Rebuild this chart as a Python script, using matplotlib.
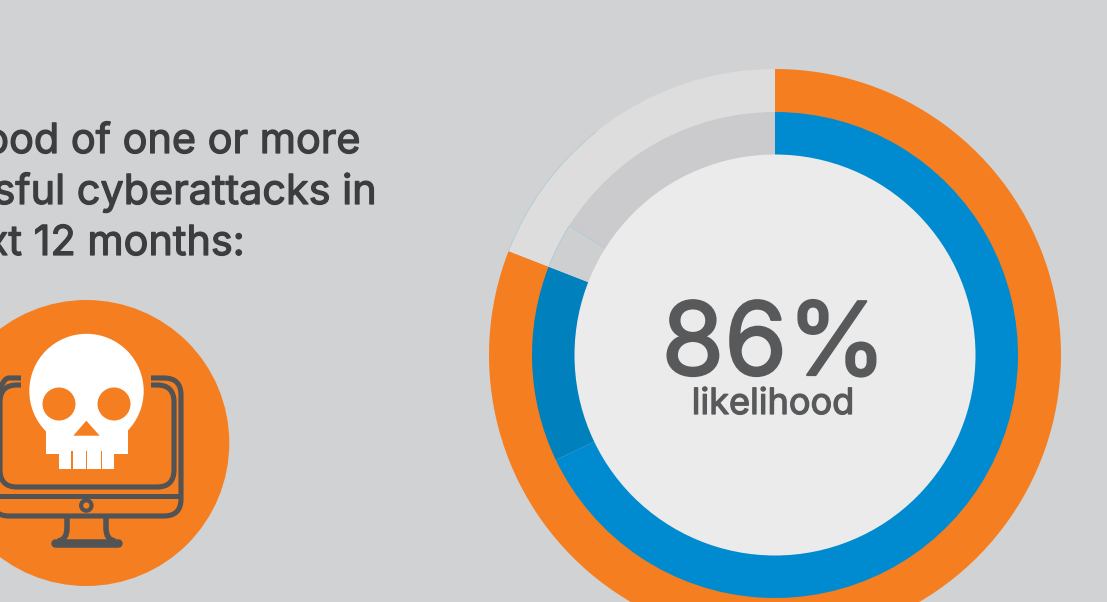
import numpy as np
import matplotlib
matplotlib.use('Agg')
import matplotlib.pyplot as plt
import matplotlib.patheffects as pe
from matplotlib.patches import Circle, Rectangle, Polygon, PathPatch, Arc
from matplotlib.path import Path

WIDTH, HEIGHT = 1107, 602
BG = '#d1d2d4'
ORANGE = '#f57e20'
BLUE = '#008bd0'
DARK_BLUE = '#0080bd'
PALE = '#dddddd'
GREY = '#cbcbcd'
GREY_LIGHT = '#cecfd1'
DISC = '#ebebeb'
TEXT = '#58595b'
ICON = '#525355'
HEADING = '#3c3d3f'
HAIR = '#a8cbd8'

likelihood = 86
outer_values = [likelihood, 20.28]
outer_colors = [ORANGE, PALE]
inner_values = [72.15, 13.85, 3.19, 17.09]
inner_colors = [BLUE, DARK_BLUE, GREY_LIGHT, GREY]
heading_lines = ['ood of one or more', 'sful cyberattacks in', 'xt 12 months:']
heading_right = [361, 377, 245]
heading_base = [153, 204, 255]


def fy(y):
    return HEIGHT - y


def frame_path(x0, x1, y0, y1, r, gap0, gap1):
    # rounded box, open along the top between gap0 and gap1
    verts = [(gap1, y0), (x1 - r, y0), (x1, y0), (x1, y0 + r), (x1, y1 - r), (x1, y1), (x1 - r, y1),
             (x0 + r, y1), (x0, y1), (x0, y1 - r), (x0, y0 + r), (x0, y0), (x0 + r, y0), (gap0, y0)]
    codes = [Path.MOVETO, Path.LINETO, Path.CURVE3, Path.CURVE3, Path.LINETO, Path.CURVE3, Path.CURVE3,
             Path.LINETO, Path.CURVE3, Path.CURVE3, Path.LINETO, Path.CURVE3, Path.CURVE3, Path.LINETO]
    return Path([(x, fy(y)) for x, y in verts], codes)


def stroke(ax, verts, codes, lw=5.0, cap='butt'):
    path = Path([(x, fy(y)) for x, y in verts], codes)
    ax.add_patch(PathPatch(path, fill=False, edgecolor=ICON, linewidth=lw * 0.72, capstyle=cap))


def draw_icon(ax):
    ax.add_patch(Circle((86.3, fy(443)), 143, color=ORANGE, lw=0))

    # monitor
    ax.add_patch(PathPatch(frame_path(-8, 181, 378, 516, 17, 21, 151), fill=False, edgecolor=ICON,
                           linewidth=3.7, capstyle='butt'))
    ax.add_patch(PathPatch(frame_path(0, 174, 385, 487, 17, 21, 151), fill=False, edgecolor=ICON,
                           linewidth=3.7, capstyle='butt'))
    stroke(ax, [(-8, 496), (181, 496)], [Path.MOVETO, Path.LINETO])
    ax.add_patch(Circle((86.3, fy(505.5)), 5.2, fill=False, edgecolor=ICON, linewidth=3.0))

    # stand
    curve = [Path.MOVETO, Path.LINETO, Path.CURVE3, Path.CURVE3]
    stroke(ax, [(67, 516), (67, 528), (67, 540), (58, 541)], curve, lw=5.5)
    stroke(ax, [(106, 516), (106, 528), (106, 540), (115, 541)], curve, lw=5.5)
    stroke(ax, [(55, 543), (118, 543)], [Path.MOVETO, Path.LINETO], lw=8.5, cap='round')

    # skull
    ax.add_patch(Circle((86.5, fy(391)), 57.2, color='white', lw=0))
    ax.add_patch(Rectangle((46, fy(453.5)), 82.3, 50, color='white', lw=0))
    ax.add_patch(Rectangle((59.3, fy(469)), 54.7, 18, color='white', lw=0))
    for x0, x1 in [(71, 72.7), (85.8, 87.3), (100.8, 102.3)]:
        ax.add_patch(Rectangle((x0, fy(469)), x1 - x0, 18, color=ORANGE, lw=0))
    for ex in (59, 114):
        ax.add_patch(Circle((ex, fy(404)), 16.5, color=ORANGE, lw=0))
    ax.add_patch(Polygon([(86.3, fy(420.7)), (73.3, fy(435.7)), (99.7, fy(435.7))], color=ORANGE, lw=0))


def draw_rings(ax, cx, cy):
    ax.pie(outer_values, colors=outer_colors, radius=286, center=(cx, cy), startangle=90, counterclock=False,
           wedgeprops=dict(width=44, linewidth=0))
    ax.pie(inner_values, colors=inner_colors, radius=243, center=(cx, cy), startangle=90, counterclock=False,
           wedgeprops=dict(width=44, linewidth=0))
    ax.add_patch(Circle((cx, cy), 200.5, color=DISC, lw=0, zorder=3))

    # thin keylines around the grey segment of the inner ring
    total = sum(inner_values)
    start = 360 * sum(inner_values[:2]) / total
    seam = 360 * sum(inner_values[:3]) / total
    ang = np.radians(90 - seam)
    ax.plot([cx + 243 * np.cos(ang), cx + 201 * np.cos(ang)], [cy + 243 * np.sin(ang), cy + 201 * np.sin(ang)],
            color=HAIR, lw=0.5, zorder=4)
    ax.add_patch(Arc((cx, cy), 486, 486, theta1=90 - seam, theta2=90 - start, color=HAIR, lw=0.5, zorder=4))
    ax.add_patch(Arc((cx, cy), 572, 572, theta1=90 - start - 30, theta2=90 - start, color=HAIR, lw=0.5, zorder=4))


fig = plt.figure(figsize=(WIDTH / 100, HEIGHT / 100), dpi=100, facecolor=BG)
ax = fig.add_axes([0, 0, 1, 1])

draw_rings(ax, 775, fy(355))
draw_icon(ax)

ax.set_xlim(0, WIDTH)
ax.set_ylim(0, HEIGHT)
ax.set_axis_off()

# the installed faces run light, so thicken the stems a little
for line, right, base in zip(heading_lines, heading_right, heading_base):
    ax.text(right, fy(base), line, ha='right', va='baseline', fontsize=29.8, color=HEADING, family='Inter',
            path_effects=[pe.withStroke(linewidth=0.9, foreground=HEADING)])

ax.text(774, fy(375), f'{likelihood}%', ha='center', va='baseline', fontsize=73, color=TEXT, family='Inter',
        zorder=5, path_effects=[pe.withStroke(linewidth=1.6, foreground=TEXT)])
ax.text(773, fy(414), 'likelihood', ha='center', va='baseline', fontsize=26, color=TEXT, family='Inter',
        zorder=5, path_effects=[pe.withStroke(linewidth=0.9, foreground=TEXT)])

fig.savefig('out.png', dpi=100, facecolor=BG)
